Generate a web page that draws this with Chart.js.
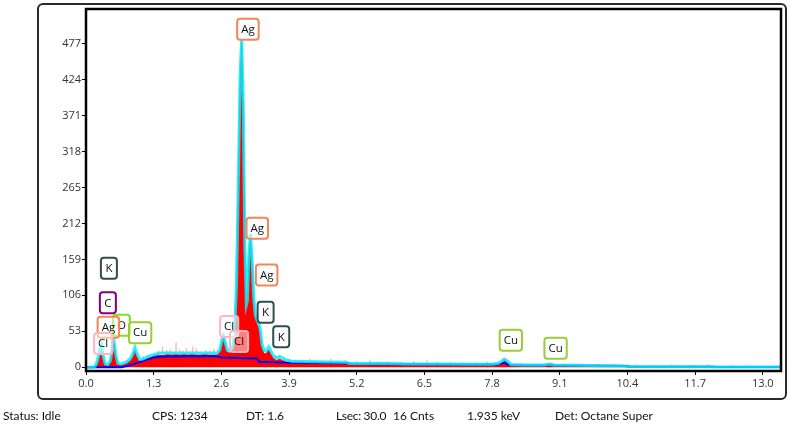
<!DOCTYPE html>
<html>
<head>
<meta charset="utf-8">
<script src="https://cdn.jsdelivr.net/npm/chart.js@4.4.1/dist/chart.umd.min.js"></script>
<style>
  html, body { margin: 0; padding: 0; background: #fff; width: 790px; height: 427px; overflow: hidden; }
  #wrap { position: relative; width: 790px; height: 427px; }
  #frame { position: absolute; left: 37px; top: 3px; width: 746px; height: 393px; border: 2px solid #2a2a2a; border-radius: 6px; box-sizing: content-box; }
  canvas { position: absolute; left: 0; top: 0; }
  .st { position: absolute; top: 408px; font: 12px Lato, 'Open Sans', sans-serif; color: #111; white-space: nowrap; }
</style>
</head>
<body>
<div id="wrap">
  <div id="frame"></div>
  <canvas id="c" width="790" height="427"></canvas>
  <div class="st" style="left:3px">Status: Idle</div>
  <div class="st" style="left:152px">CPS: 1234</div>
  <div class="st" style="left:246px">DT: 1.6</div>
  <div class="st" style="left:336px; letter-spacing:-0.3px">Lsec: 30.0</div>
  <div class="st" style="left:393px">16 Cnts</div>
  <div class="st" style="left:467px">1.935 keV</div>
  <div class="st" style="left:555px">Det: Octane Super</div>
</div>
<script>
// ---------- data (keV / counts) ----------
const energy = [0.00,0.14,0.18,0.22,0.26,0.30,0.33,0.37,0.42,0.47,0.51,0.54,0.57,0.61,0.66,0.72,0.78,0.84,0.89,0.94,0.98,1.03,1.08,1.14,1.20,1.26,1.32,1.40,1.48,1.56,1.64,1.72,1.80,1.88,1.96,2.04,2.12,2.20,2.28,2.36,2.44,2.52,2.57,2.61,2.64,2.67,2.71,2.76,2.81,2.85,2.89,2.93,2.96,2.99,3.02,3.05,3.08,3.10,3.13,3.16,3.19,3.22,3.25,3.29,3.32,3.35,3.38,3.42,3.46,3.51,3.55,3.60,3.66,3.72,3.77,3.84,3.95,4.20,4.60,5.00,5.06,5.60,6.20,6.80,7.40,7.80,7.92,7.98,8.04,8.10,8.16,8.40,8.80,8.90,8.98,9.40,9.90,10.35,10.40,11.00,12.00,12.05,13.35];
const spectrumCounts = [0,0,1,6,16,23,12,3,2,8,26,35,18,4,3,4,6,9,14,25,16,9,10,12,13,15,17,18,17,19,18,19,18,19,18,19,18,18,19,18,18,18,22,36,43,34,22,21,24,40,110,280,420,478,380,170,86,92,160,190,150,98,72,62,60,48,30,20,20,26,20,13,10,12,10,8,6,6,6,5.5,4,4,3.5,3.5,3,3,4,7,10,7,3,2.5,2.5,3.5,2.5,2,2,1.5,0,0,0,0,0];
const fitCounts = [0,0,2,10,24,32,16,5,4,10,30,38,20,6,5,6,8,12,18,29,20,12,12,14,16,18,19,21,21,21,21,21,21,21,21,21,21,21,21,21,21,21,25,40,46,38,26,25,28,45,120,290,430,484,390,180,92,98,170,196,158,104,78,68,66,54,34,25,24,30,24,17,14,16,14,11,9,8.5,8,7.5,5.5,6,5,5,4.5,4.5,6,9,12,9,4,3.5,3.5,5,3.5,3,2.5,2,1.2,1,1,0.6,0.6];
const bgEnergy = [0.00,0.68,0.85,1.00,1.15,1.30,1.50,2.00,2.50,2.60,3.28,3.33,3.50,3.80,4.50,5.05,5.10,7.40,7.90,8.04,8.12,8.85,8.92,9.00,10.40,10.45,12.05,12.10,13.35];
const bgCounts = [0,0,3,7,11,14.5,16,16.5,16.5,14.5,13,8,8,7,6.5,6,5,4,4,7,3.5,3,4,3,2,1,1,0.5,0.5];
const spikeEnergy = [0.80,0.88,1.10,1.18,1.30,1.38,1.47,1.55,1.62,1.68,1.73,1.80,1.86,1.93,2.00,2.05,2.12,2.20,2.30,2.38,2.46,2.53,2.78,3.62,3.70,3.82,3.90,4.02,4.15,4.30,4.42,4.55,4.70,4.85,4.98,5.20,5.45,5.62,5.80,6.05,6.30,6.55,6.75,7.00,7.22,7.50,7.70,8.02,8.06,8.35,8.60,8.95,9.20,9.55,9.85,10.10,10.55,10.90,11.25,11.60,11.95,12.40,12.75];
const spikeCounts = [10,14,16,18,20,24,30,25,27,22,36,26,24,28,23,30,27,22,25,24,27,26,30,16,15,12,11,10,11,12,10,11,12,10,11,9,10,8,9,8,9,10,8,8,7,7,8,14,13,6,5,6,5,5,5,4,4,3,4,3,4,3,3];
const peakLabels = ['K','C','O','Ag','Cu','Cl','Ag','Ag','Ag','K','K','Cl','Cl','Cu','Cu'];
const peakLabelEnergy = [0.44,0.42,0.68,0.43,1.04,0.33,3.11,3.29,3.47,3.45,3.75,2.75,2.94,8.16,9.02];
const peakLabelCounts = [146,95,62,59,51,35,498,205,136,81,45,60,38,40,28];
const xTicks = [0.0,1.3,2.6,3.9,5.2,6.5,7.8,9.1,10.4,11.7,13.0];
const yTicks = [0,53,106,159,212,265,318,371,424,477];

const elementColors = { Ag: '#f5845a', K: '#2f4f4f', C: '#800080', O: '#7ee020', Cu: '#9acd32', Cl: '#ffb6c1' };

const FONT = "'Open Sans', 'Noto Sans', sans-serif";
Chart.defaults.font.family = FONT;

const pts = (xs, ys) => xs.map((x, i) => ({ x: x, y: ys[i] }));

const labelPlugin = {
  id: 'peakLabels',
  afterDatasetsDraw(chart) {
    const ctx = chart.ctx, xs = chart.scales.x, ys = chart.scales.y;
    ctx.save();
    ctx.font = '11.5px ' + FONT;
    ctx.textAlign = 'center';
    ctx.textBaseline = 'middle';
    peakLabels.forEach((t, i) => {
      const cx = xs.getPixelForValue(peakLabelEnergy[i]);
      const cy = ys.getPixelForValue(peakLabelCounts[i]);
      const w = Math.max(ctx.measureText(t).width + 8, 16);
      const h = 21;
      ctx.beginPath();
      ctx.roundRect(cx - w / 2, cy - h / 2, w, h, 3);
      ctx.fillStyle = 'rgba(255,255,255,0.5)';
      ctx.fill();
      ctx.lineWidth = 2;
      ctx.strokeStyle = elementColors[t];
      ctx.stroke();
      ctx.fillStyle = '#111';
      ctx.fillText(t, cx, cy + 0.5);
    });
    ctx.restore();
  },
  afterDraw(chart) {
    const a = chart.chartArea, ctx = chart.ctx;
    ctx.save();
    ctx.lineWidth = 2.5;
    ctx.strokeStyle = '#000';
    ctx.strokeRect(a.left, a.top, a.right - a.left, a.bottom - a.top);
    ctx.restore();
  }
};

new Chart(document.getElementById('c'), {
  type: 'line',
  data: {
    datasets: [
      { type: 'bar', data: pts(spikeEnergy, spikeCounts), backgroundColor: 'rgba(255,70,70,0.35)', barThickness: 1, order: 4, grouped: false },
      { data: pts(energy, spectrumCounts), borderColor: '#ff0000', borderWidth: 1, backgroundColor: '#ff0000', fill: 'origin', pointRadius: 0, tension: 0, order: 3 },
      { data: pts(bgEnergy, bgCounts), borderColor: '#0000ff', borderWidth: 2, fill: false, pointRadius: 0, tension: 0, order: 2 },
      { data: pts(energy, fitCounts), borderColor: 'rgba(0,238,255,0.85)', borderWidth: 3, fill: false, pointRadius: 0, tension: 0, order: 1 }
    ]
  },
  options: {
    responsive: false,
    animation: false,
    devicePixelRatio: 1,
    layout: { padding: { left: 0, top: 9, right: 9, bottom: 0 } },
    plugins: { legend: { display: false }, tooltip: { enabled: false } },
    scales: {
      x: {
        type: 'linear', min: 0, max: 13.35, offset: false,
        grid: { display: true, drawOnChartArea: false, drawTicks: true, tickLength: 4, color: '#000', offset: false },
        border: { display: false },
        afterBuildTicks: s => { s.ticks = xTicks.map(v => ({ value: v })); },
        afterFit: s => { s.height = 56; },
        ticks: { autoSkip: false, maxRotation: 0, padding: 2, color: '#333', font: { size: 11 }, callback: v => Number(v).toFixed(1) }
      },
      y: {
        type: 'linear', min: -5.4, max: 527.7,
        grid: { display: true, drawOnChartArea: false, drawTicks: true, tickLength: 4, color: '#000' },
        border: { display: false },
        afterBuildTicks: s => { s.ticks = yTicks.map(v => ({ value: v })); },
        afterFit: s => { s.width = 86; },
        ticks: { autoSkip: false, padding: 1, color: '#333', font: { size: 11 } }
      }
    }
  },
  plugins: [labelPlugin]
});
</script>
</body>
</html>
